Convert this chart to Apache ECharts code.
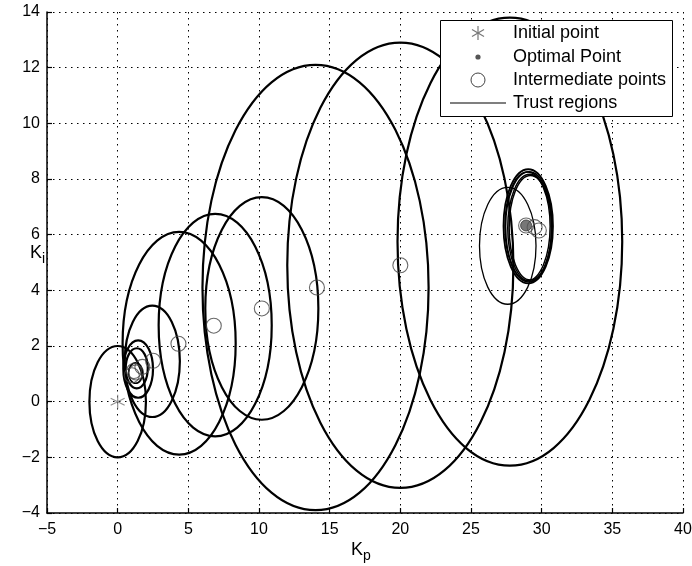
<!DOCTYPE html>
<html>
<head>
<meta charset="utf-8">
<script src="https://cdn.jsdelivr.net/npm/echarts@6/dist/echarts.min.js"></script>
<style>html,body{margin:0;padding:0;background:#fff;}#c{width:692px;height:566px;}</style>
</head>
<body>
<div id="c"></div>
<script>
// Trust regions (ellipses): centre x, centre y, half-width, half-height
const ellX  = [0,   1.45, 1.35, 1.27, 2.45, 4.35, 6.9, 10.2, 14.0, 20.0, 27.75, 27.6, 29.05, 29.1, 29.15, 29.2, 29.0];
const ellY  = [0,   1.17, 1.2,  1.03, 1.45, 2.1,  2.75, 3.35, 4.1,  4.9,  5.75,  5.6,  6.3,   6.28,  6.25,  6.25, 6.3];
const ellRx = [2,   1.05, 0.78, 0.5,  1.95, 4.0,  4.0,  4.0,  8.0,  8.0,  7.95,  2.0,  1.75,  1.65,  1.55,  1.5,  1.6];
const ellRy = [2,   1.03, 0.72, 0.37, 2.0,  4.0,  4.0,  4.0,  8.0,  8.0,  8.05,  2.1,  2.05,  1.98,  1.92,  1.88, 1.95];
const ellW  = [2.2, 2.2,  2.2,  1.6,  2.2,  2.2,  2.2,  2.2,  2.2,  2.2,  2.2,   1.3,  1.8,   1.5,   1.5,   1.5,  1.5];

// Intermediate points
const midX = [1.0, 1.15, 1.3, 1.75, 2.5, 4.3, 6.8, 10.2, 14.1, 20.0, 28.9, 29.5, 29.8];
const midY = [0.95, 1.1, 1.05, 1.25, 1.47, 2.08, 2.73, 3.35, 4.1, 4.9, 6.33, 6.27, 6.15];

// Initial and optimal points
const initPt = [0, 0];
const optPt = [28.9, 6.33];

const xTicks = { min: -5, max: 40, interval: 5 };
const yTicks = { min: -4, max: 14, interval: 2 };

const FONT = 'Liberation Sans, Arial, Helvetica, sans-serif';
const asterisk = 'path://M5,0L5,10M0.67,2.5L9.33,7.5M0.67,7.5L9.33,2.5';
const fmt = v => String(v).replace('-', '\u2212');

const ellData = ellX.map((x, i) => [x, ellY[i], ellRx[i], ellRy[i], ellW[i]]);
const midData = midX.map((x, i) => [x, midY[i]]);

const chart = echarts.init(document.getElementById('c'), null, { renderer: 'canvas' });

const gridLine = { show: true, lineStyle: { color: '#000', width: 1, type: [1.5, 4.5] } };

const lx = 478, ty = [33, 57, 80, 103];
const txt = (y, s) => ({ type: 'text', z: 102, x: 513, y: y, style: { text: s, font: '18px ' + FONT, fill: '#000', verticalAlign: 'middle' } });
const option = {
  backgroundColor: '#fff',
  animation: false,
  grid: { left: 47, right: 9, top: 12, bottom: 53, containLabel: false, outerBoundsMode: 'none' },
  xAxis: {
    type: 'value', min: xTicks.min, max: xTicks.max, interval: xTicks.interval,
    axisLine: { show: true, onZero: false, lineStyle: { color: '#000', width: 1.5 } },
    axisTick: { show: true, inside: true, length: 5, lineStyle: { color: '#000', width: 1.2 } },
    axisLabel: { color: '#000', fontSize: 16, fontFamily: FONT, margin: 9, formatter: fmt },
    splitLine: gridLine,
    name: '{k|K}{s|p}', nameLocation: 'middle', nameGap: 24, nameMoveOverlap: false,
    nameTextStyle: { padding: [0, 8, 0, 0], rich: { k: { fontSize: 18, fontFamily: FONT, color: '#000' }, s: { fontSize: 14, fontFamily: FONT, color: '#000', padding: [12, 0, 0, 0] } } }
  },
  yAxis: {
    type: 'value', min: yTicks.min, max: yTicks.max, interval: yTicks.interval,
    axisLine: { show: true, onZero: false, lineStyle: { color: '#000', width: 1.5 } },
    axisTick: { show: true, inside: true, length: 5, lineStyle: { color: '#000', width: 1.2 } },
    axisLabel: { color: '#000', fontSize: 16, fontFamily: FONT, margin: 7, formatter: fmt },
    splitLine: gridLine,
    name: '{k|K}{s|i}', nameLocation: 'middle', nameGap: 2, nameRotate: 0, nameMoveOverlap: false,
    nameTextStyle: { padding: [0, 0, 18, 0], rich: { k: { fontSize: 18, fontFamily: FONT, color: '#000' }, s: { fontSize: 14, fontFamily: FONT, color: '#000', padding: [12, 0, 0, 0] } } }
  },
  series: [
    {
      type: 'custom', name: 'Trust regions', clip: true, z: 3,
      data: ellData,
      encode: { x: 0, y: 1 },
      renderItem: function (params, api) {
        const c = api.coord([api.value(0), api.value(1)]);
        const s = api.size([api.value(2), api.value(3)]);
        return {
          type: 'ellipse',
          shape: { cx: c[0], cy: c[1], rx: s[0], ry: s[1] },
          style: { fill: 'none', stroke: '#000', lineWidth: api.value(4) }
        };
      }
    },
    {
      type: 'scatter', name: 'Intermediate points', z: 4,
      data: midData, symbol: 'circle', symbolSize: 15,
      itemStyle: { color: 'rgba(0,0,0,0)', borderColor: '#444', borderWidth: 1.1 }
    },
    {
      type: 'scatter', name: 'Optimal Point', z: 5,
      data: [optPt], symbol: 'circle', symbolSize: 11,
      itemStyle: { color: '#555', borderColor: '#333', borderWidth: 1 }
    },
    {
      type: 'scatter', name: 'Initial point', z: 5,
      data: [initPt], symbol: asterisk, symbolSize: 14,
      itemStyle: { color: 'none', borderColor: '#777', borderWidth: 1.2 }
    }
  ],
  graphic: [
    { type: 'rect', z: 100, shape: { x: 440.5, y: 20.5, width: 232, height: 96 }, style: { fill: '#fff', stroke: '#000', lineWidth: 1 } },
    { type: 'line', z: 102, shape: { x1: lx, y1: ty[0] - 7, x2: lx, y2: ty[0] + 7 }, style: { stroke: '#777', lineWidth: 1.2 } },
    { type: 'line', z: 102, shape: { x1: lx - 6, y1: ty[0] - 3.5, x2: lx + 6, y2: ty[0] + 3.5 }, style: { stroke: '#777', lineWidth: 1.2 } },
    { type: 'line', z: 102, shape: { x1: lx - 6, y1: ty[0] + 3.5, x2: lx + 6, y2: ty[0] - 3.5 }, style: { stroke: '#777', lineWidth: 1.2 } },
    { type: 'circle', z: 102, shape: { cx: lx, cy: ty[1], r: 2.6 }, style: { fill: '#555' } },
    { type: 'circle', z: 102, shape: { cx: lx, cy: ty[2], r: 7 }, style: { fill: 'none', stroke: '#444', lineWidth: 1 } },
    { type: 'line', z: 102, shape: { x1: 450, y1: ty[3], x2: 506, y2: ty[3] }, style: { stroke: '#000', lineWidth: 1.2 } },
    txt(ty[0], 'Initial point'),
    txt(ty[1], 'Optimal Point'),
    txt(ty[2], 'Intermediate points'),
    txt(ty[3], 'Trust regions')
  ]
};
chart.setOption(option);
</script>
</body>
</html>
